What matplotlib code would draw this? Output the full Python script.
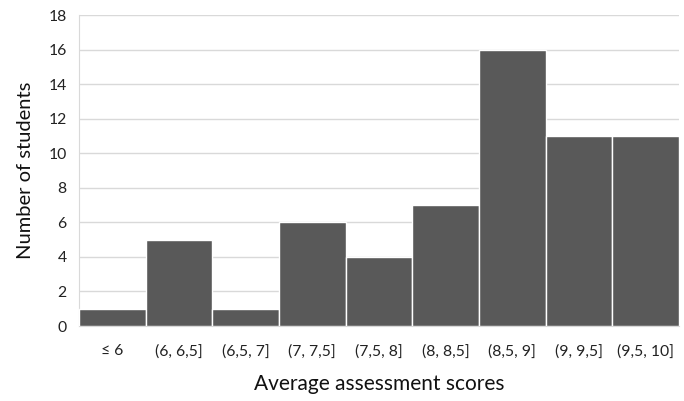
import numpy as np
import matplotlib
matplotlib.use("Agg")
import matplotlib.pyplot as plt

plt.rcParams['font.family'] = ['Lato', 'DejaVu Sans']

categories = ["\u2264 6", "(6, 6,5]", "(6,5, 7]", "(7, 7,5]", "(7,5, 8]",
              "(8, 8,5]", "(8,5, 9]", "(9, 9,5]", "(9,5, 10]"]
counts = [1, 5, 1, 6, 4, 7, 16, 11, 11]

fig = plt.figure(figsize=(6.84, 4.01), dpi=100)
ax = fig.add_axes([0.1155, 0.187, 0.877, 0.7755])

x = np.arange(len(categories))
ax.bar(x, counts, width=1.0, color="#595959", edgecolor="white", linewidth=1.0, zorder=3)

ax.set_xlim(-0.5, len(categories) - 0.5)
ax.set_ylim(0, 18)
ax.set_yticks(np.arange(0, 19, 2))
ax.set_xticks(x)
ax.set_xticklabels(categories)

ax.grid(axis="y", color="#d9d9d9", linewidth=1.0, zorder=0)
for side in ["top", "right"]:
    ax.spines[side].set_visible(False)
ax.spines["left"].set_color("#d9d9d9")
ax.spines["bottom"].set_color("#d9d9d9")

ax.tick_params(axis="both", length=0, labelsize=11.3, colors="#222222")
ax.tick_params(axis="x", pad=13)
ax.tick_params(axis="y", pad=9)

ax.set_xlabel("Average assessment scores", fontsize=15, color="#111111", labelpad=11)
ax.set_ylabel("Number of students", fontsize=14.5, color="#111111", labelpad=10)

fig.savefig("out.png", dpi=100)
